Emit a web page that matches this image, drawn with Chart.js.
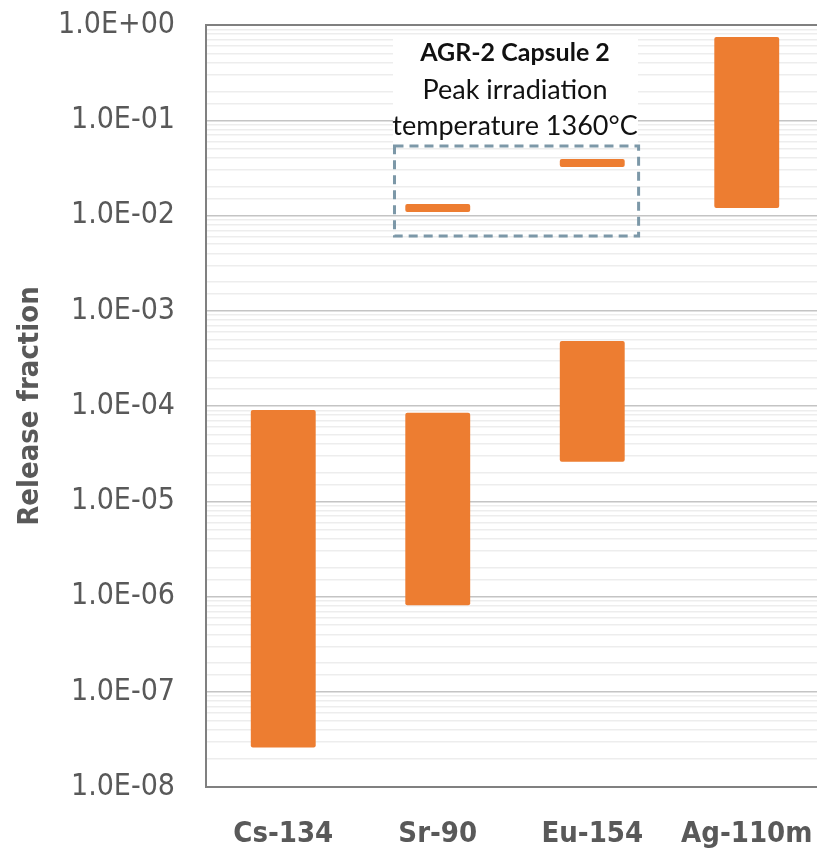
<!DOCTYPE html>
<html>
<head>
<meta charset="UTF-8">
<title>Release fraction</title>
<script src="https://cdn.jsdelivr.net/npm/chart.js@4"></script>
<style>
  body { margin: 0; overflow: hidden; background: #fff; }
  #wrap { width: 830px; height: 848px; }
</style>
</head>
<body>
<div id="wrap"><canvas id="myChart"></canvas></div>
<script>
// data
var nuclides = ['Cs-134', 'Sr-90', 'Eu-154', 'Ag-110m'];
var rangeLow  = [2.6e-8, 8.1e-7, 2.6e-5, 0.012];
var rangeHigh = [9.1e-5, 8.5e-5, 4.8e-4, 0.75];
// AGR-2 capsule 2 values (thin bars inside the dashed box)
var cap2Low  = [null, 0.0109, 0.0323, null];
var cap2High = [null, 0.0132, 0.0392, null];
var boxTop = 0.0537, boxBottom = 0.0061;
var noteLines = ['AGR-2 Capsule 2', 'Peak irradiation', 'temperature 1360\u00B0C'];

var narrow = '"DejaVu Sans Condensed", Roboto, sans-serif';
var orange = '#ED7D31';

function pairs(lo, hi) {
    return lo.map(function (v, i) { return v == null ? null : [v, hi[i]]; });
}

var notePlugin = {
    id: 'note',
    beforeDatasetsDraw: function (chart) {
        var c = chart.ctx, x = chart.scales.x, y = chart.scales.y;
        var cx = (x.getPixelForValue(1) + x.getPixelForValue(2)) / 2;
        var top = y.getPixelForValue(boxTop);
        c.save();
        c.fillStyle = '#fff';
        c.fillRect(cx - 122, top - 110, 245, 108);
        c.fillStyle = '#111';
        c.textAlign = 'center';
        c.textBaseline = 'middle';
        c.font = 'bold 25px Lato';
        c.fillText(noteLines[0], cx, top - 93);
        c.font = '27px Lato';
        c.fillText(noteLines[1], cx, top - 56);
        c.fillText(noteLines[2], cx, top - 20);
        c.restore();
    },
    afterDatasetsDraw: function (chart) {
        var c = chart.ctx, x = chart.scales.x, y = chart.scales.y;
        var step = x.getPixelForValue(2) - x.getPixelForValue(1);
        var l = x.getPixelForValue(1) - 0.28 * step;
        var r = x.getPixelForValue(2) + 0.3 * step;
        var t = y.getPixelForValue(boxTop), b = y.getPixelForValue(boxBottom);
        c.save();
        c.strokeStyle = '#7C98A8';
        c.lineWidth = 3;
        c.setLineDash([9, 6]);
        c.strokeRect(l, t, r - l, b - t);
        c.restore();
    }
};

var ctx = document.getElementById('myChart').getContext('2d');
var chart = new Chart(ctx, {
    type: 'bar',
    data: {
        labels: nuclides,
        datasets: [{
            label: 'Release fraction',
            data: pairs(rangeLow, rangeHigh),
            backgroundColor: orange,
            borderRadius: 2,
            borderSkipped: false
        }, {
            label: 'AGR-2 Capsule 2',
            data: pairs(cap2Low, cap2High),
            backgroundColor: orange,
            borderRadius: 2,
            borderSkipped: false
        }]
    },
    options: {
        responsive: true,
        maintainAspectRatio: false,
        animation: false,
        layout: { padding: { left: 0, top: 25, right: 6, bottom: 0 } },
        plugins: { legend: { display: false }, tooltip: { enabled: false } },
        datasets: { bar: { grouped: false, categoryPercentage: 1, barPercentage: 0.42 } },
        scales: {
            x: {
                grid: { display: false },
                border: { display: true, color: '#808080', width: 2 },
                ticks: { color: '#595959', padding: 22, font: { family: narrow, size: 29, weight: 'bold' } },
                afterFit: function (s) {
                    s.height = 61;
                    s.paddingLeft = 0; s.paddingRight = 0;
                }
            },
            y: {
                type: 'logarithmic',
                min: 1e-8,
                max: 1,
                border: { display: true, color: '#808080', width: 2 },
                grid: {
                    drawTicks: false,
                    color: function (c) {
                        var v = c.tick.value;
                        if (v >= 1 || v <= 1e-8) return '#808080';
                        var e = Math.log10(v);
                        return Math.abs(e - Math.round(e)) < 1e-6 ? '#C4C4C4' : '#EDEDED';
                    },
                    lineWidth: function (c) {
                        var v = c.tick.value;
                        return (v >= 1 || v <= 1e-8) ? 2 : 1.5;
                    }
                },
                ticks: {
                    autoSkip: false,
                    color: '#595959',
                    padding: 31,
                    font: { family: narrow, size: 30 },
                    callback: function (v) {
                        var e = Math.log10(v);
                        if (Math.abs(e - Math.round(e)) > 1e-6) return '';
                        e = Math.round(e);
                        return '1.0E' + (e < 0 ? '-' : '+') + String(Math.abs(e)).padStart(2, '0');
                    }
                },
                title: {
                    display: true,
                    text: 'Release fraction',
                    color: '#595959',
                    font: { family: narrow, size: 29, weight: 'bold' },
                    padding: { top: 13, bottom: 0 }
                },
                afterFit: function (s) {
                    s.width = 206;
                    s.paddingTop = 0; s.paddingBottom = 0;
                }
            }
        }
    },
    plugins: [notePlugin]
});
</script>
</body>
</html>
